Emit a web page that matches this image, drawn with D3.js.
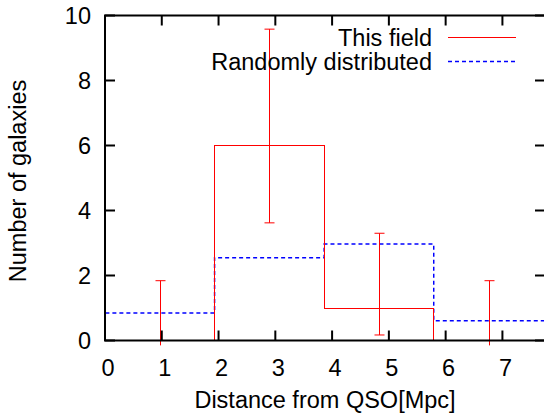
<!DOCTYPE html>
<html>
<head>
<meta charset="utf-8">
<script src="https://cdn.jsdelivr.net/npm/d3@7"></script>
<style>
    body { margin: 0; background: #fff; }
    text { font-family: "Liberation Sans", Arial, sans-serif; fill: #000; }
</style>
</head>
<body>
<div id="chart"></div>
<script>
// bin edges (Mpc) of the histogram
var binEdges = [0, 1.93, 3.86, 5.79, 7.8];
var binCenters = [0.965, 2.895, 4.825, 6.755];
// counts per bin
var fieldCounts = [0, 6, 1, 0];
var randomCounts = [0.85, 2.55, 2.97, 0.61];
// error bars of "This field"
var errLow = [-0.15, 3.62, 0.17, -0.15];
var errHigh = [1.84, 9.58, 3.3, 1.84];
// ticks
var xTicks = [0, 1, 2, 3, 4, 5, 6, 7];
var yTicks = [0, 2, 4, 6, 8, 10];
var seriesNames = ["This field", "Randomly distributed"];

makePlot();

function makePlot() {
    // STEP 1: set up the chart
    var svgWidth = 544;
    var svgHeight = 413;
    var margin = { top: 15.5, right: -1, bottom: 72.5, left: 105 };
    var chart_width = svgWidth - margin.left - margin.right;
    var chart_height = svgHeight - margin.top - margin.bottom;
    var fontSize = 23.5;

    var svg = d3.select("#chart")
        .append("svg")
        .attr("width", svgWidth)
        .attr("height", svgHeight);
    var chartGroup = svg.append("g")
        .attr("transform", `translate(${margin.left}, ${margin.top})`);

    // STEP 2: scales
    var xScale = d3.scaleLinear()
        .domain([0, 7.75])
        .range([0, chart_width]);
    var yScale = d3.scaleLinear()
        .domain([0, 10])
        .range([chart_height, 0]);

    chartGroup.append("clipPath").attr("id", "clip")
        .append("rect")
        .attr("width", chart_width)
        .attr("height", chart_height);

    // STEP 3: histogram steps
    var line_gen = d3.line()
        .x(d => xScale(d[0]))
        .y(d => yScale(d[1]))
        .curve(d3.curveStepAfter);
    function stepPoints(counts) {
        var pts = [[0, 0]];
        counts.forEach(function(c, i) { pts.push([binEdges[i], c]); });
        pts.push([binEdges[binEdges.length - 1], counts[counts.length - 1]]);
        return pts;
    }
    chartGroup.append("path")
        .attr("d", line_gen(stepPoints(randomCounts)))
        .attr("clip-path", "url(#clip)")
        .attr("fill", "none")
        .attr("stroke", "#0000ff")
        .attr("stroke-width", 1.5)
        .attr("stroke-dasharray", "4,3");
    chartGroup.append("path")
        .attr("d", line_gen(stepPoints(fieldCounts)))
        .attr("clip-path", "url(#clip)")
        .attr("fill", "none")
        .attr("stroke", "#ff0000")
        .attr("stroke-width", 1)
        .attr("shape-rendering", "crispEdges");

    // error bars
    var capW = 5;
    binCenters.forEach(function(cx, i) {
        var x = Math.round(xScale(cx)) + 0.5;
        chartGroup.append("line")
            .attr("x1", x).attr("x2", x)
            .attr("y1", yScale(errLow[i])).attr("y2", yScale(errHigh[i]))
            .attr("stroke", "#ff0000");
        chartGroup.append("line")
            .attr("x1", x - capW).attr("x2", x + capW)
            .attr("y1", yScale(errHigh[i])).attr("y2", yScale(errHigh[i]))
            .attr("stroke", "#ff0000");
        if (errLow[i] > 0) {
            chartGroup.append("line")
                .attr("x1", x - capW).attr("x2", x + capW)
                .attr("y1", yScale(errLow[i])).attr("y2", yScale(errLow[i]))
                .attr("stroke", "#ff0000");
        }
    });

    // STEP 4: axes (gnuplot style, ticks inside on all four sides)
    var tickLen = 10;
    var border = chartGroup.append("g").attr("stroke", "#000").attr("stroke-width", 2);
    border.append("rect")
        .attr("width", chart_width)
        .attr("height", chart_height)
        .attr("fill", "none");
    xTicks.forEach(function(t) {
        var x = xScale(t);
        border.append("line").attr("x1", x).attr("x2", x)
            .attr("y1", chart_height).attr("y2", chart_height - tickLen);
        border.append("line").attr("x1", x).attr("x2", x)
            .attr("y1", 0).attr("y2", tickLen);
        chartGroup.append("text")
            .attr("x", x + 3)
            .attr("y", chart_height + 35)
            .attr("text-anchor", "middle")
            .style("font-size", fontSize + "px")
            .text(t);
    });
    yTicks.forEach(function(t) {
        var y = yScale(t);
        border.append("line").attr("x1", 0).attr("x2", tickLen)
            .attr("y1", y).attr("y2", y);
        border.append("line").attr("x1", chart_width).attr("x2", chart_width - tickLen)
            .attr("y1", y).attr("y2", y);
        chartGroup.append("text")
            .attr("x", -14)
            .attr("y", y + 8)
            .attr("text-anchor", "end")
            .style("font-size", fontSize + "px")
            .text(t);
    });

    // axis titles
    svg.append("text")
        .attr("x", 325)
        .attr("y", 408)
        .attr("text-anchor", "middle")
        .style("font-size", fontSize + "px")
        .text("Distance from QSO[Mpc]");
    svg.append("text")
        .attr("transform", "translate(26, 181) rotate(-90)")
        .attr("text-anchor", "middle")
        .style("font-size", fontSize + "px")
        .text("Number of galaxies");

    // STEP 5: legend
    var legend = svg.append("g");
    var legendColors = ["#ff0000", "#0000ff"];
    seriesNames.forEach(function(name, i) {
        var y = 37.5 + i * 24;
        legend.append("text")
            .attr("x", 432)
            .attr("y", y + 8)
            .attr("text-anchor", "end")
            .style("font-size", fontSize + "px")
            .text(name);
        legend.append("line")
            .attr("x1", 448).attr("x2", 516)
            .attr("y1", y).attr("y2", y)
            .attr("stroke", legendColors[i])
            .attr("stroke-width", i == 1 ? 1.5 : 1)
            .attr("stroke-dasharray", i == 1 ? "4,3" : null);
    });
}
</script>
</body>
</html>
